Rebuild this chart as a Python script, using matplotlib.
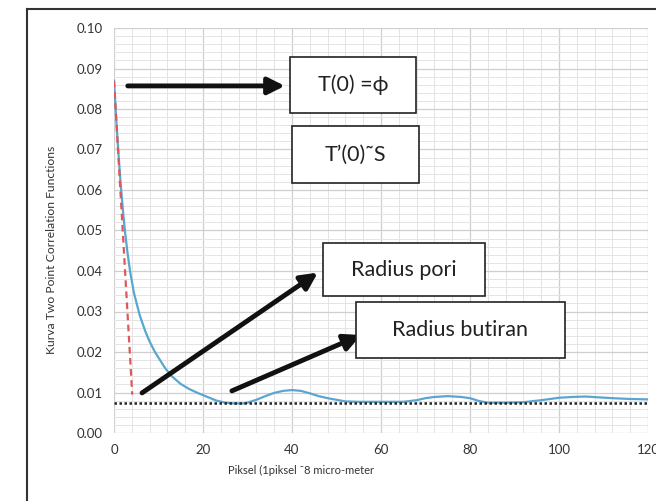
import matplotlib
matplotlib.use("Agg")
import matplotlib.pyplot as plt
import numpy as np
from matplotlib.patches import Rectangle
from matplotlib.lines import Line2D

plt.rcParams['font.family'] = ['Lato', 'DejaVu Sans']

# two point correlation curve
piksel = [0, 0.5, 1, 1.5, 2, 2.5, 3, 3.6, 4.5, 5.8, 7, 8, 9.2, 10, 11.5, 13,
          15, 17, 19, 21, 23, 25, 27, 29, 30, 32, 34, 36, 38, 40, 42, 44, 46,
          48, 50, 52, 55, 60, 65, 68, 70, 72, 75, 78, 80, 82, 84, 88, 92, 96,
          100, 103, 106, 109, 112, 116, 120]
korelasi = [0.087, 0.0775, 0.069, 0.0615, 0.055, 0.0495, 0.0448, 0.040,
            0.0345, 0.029, 0.0252, 0.0226, 0.0200, 0.0186, 0.0160, 0.0140,
            0.0121, 0.0108, 0.0098, 0.0089, 0.0080, 0.0075, 0.0073, 0.0073,
            0.0075, 0.0082, 0.0091, 0.0099, 0.0104, 0.0106, 0.0104, 0.0098,
            0.0091, 0.0086, 0.0082, 0.0078, 0.0077, 0.0077, 0.0077, 0.0081,
            0.0086, 0.0089, 0.0091, 0.0089, 0.0086, 0.0079, 0.0075, 0.0075,
            0.0076, 0.0081, 0.0087, 0.0089, 0.0090, 0.0088, 0.0086, 0.0084,
            0.0083]

# tangent at the origin and the asymptote
tangen_x = [0, 4.1]
tangen_y = [0.087, 0.0095]
asimtot_y = 0.0073

xticks = [0, 20, 40, 60, 80, 100, 120]
yticks = [0.00, 0.01, 0.02, 0.03, 0.04, 0.05, 0.06, 0.07, 0.08, 0.09, 0.10]

# annotation boxes: (text, x0, x1, y0, y1)
kotak = [("T(0) =\u03d5", 39.6, 67.9, 0.0790, 0.0928),
         ("T\u2019(0)\u02dcS", 40.0, 68.5, 0.0617, 0.0758),
         ("Radius pori", 47.0, 83.4, 0.0338, 0.0469),
         ("Radius butiran", 54.4, 101.3, 0.0185, 0.0323)]

# arrows: (x_start, y_start, x_tip, y_tip)
panah = [(3.1, 0.0857, 38.4, 0.0857),
         (6.3, 0.0099, 45.8, 0.0396),
         (26.5, 0.0104, 55.5, 0.0242)]

fig = plt.figure(figsize=(6.56, 5.01), dpi=100)
ax = fig.add_axes([114/656, 1-433/501, 534/656, 405/501])

ax.set_xlim(0, 120)
ax.set_ylim(0, 0.10)
ax.set_xticks(xticks)
ax.set_yticks(yticks)
ax.set_yticklabels([f"{v:.2f}" for v in yticks])
ax.set_xticks(np.arange(0, 121, 4), minor=True)
ax.set_yticks(np.arange(0, 0.1001, 0.002), minor=True)
ax.grid(which='major', color='#cfcfcf', lw=0.9)
ax.grid(which='minor', color='#e4e4e4', lw=0.7)
ax.set_axisbelow(True)
for s in ax.spines.values():
    s.set_visible(False)
ax.tick_params(which='both', length=0, labelsize=9.5, colors='#333333', pad=8)

ax.plot(piksel, korelasi, color='#5aa6d2', lw=1.6, zorder=3)
ax.plot(tangen_x, tangen_y, color='#e0575b', lw=1.6, ls=(0, (3, 2)), zorder=4)
ax.axhline(asimtot_y, color='#222222', lw=1.8, ls=(0, (1, 1)), zorder=4)

for x0, y0, x1, y1 in panah:
    ax.annotate("", xy=(x1, y1), xytext=(x0, y0),
                arrowprops=dict(arrowstyle='-|>,head_length=1.0,head_width=0.5',
                                color='#111111', lw=3.5, shrinkA=0, shrinkB=0),
                zorder=5)

for teks, x0, x1, y0, y1 in kotak:
    ax.add_patch(Rectangle((x0, y0), x1-x0, y1-y0, facecolor='white',
                           edgecolor='#222222', lw=1.2, zorder=6))
    ax.text((x0+x1)/2, (y0+y1)/2, teks, ha='center', va='center',
            fontsize=15.5, color='#222222', zorder=7)

fig.text(301/656, 1-470/501, "Piksel (1piksel \u02dc8 micro-meter",
         ha='center', va='center', fontsize=8, color='#333333')
fig.text(52/656, 1-250/501, "Kurva Two Point Correlation Functions",
         ha='center', va='center', rotation=90, fontsize=8.7, color='#333333')

# outer frame
fig.add_artist(Line2D([27/656, 27/656], [0, 1-9/501], color='#333333', lw=1.5))
fig.add_artist(Line2D([27/656, 1], [1-9/501, 1-9/501], color='#333333', lw=1.5))

fig.savefig("out.png", dpi=100)
